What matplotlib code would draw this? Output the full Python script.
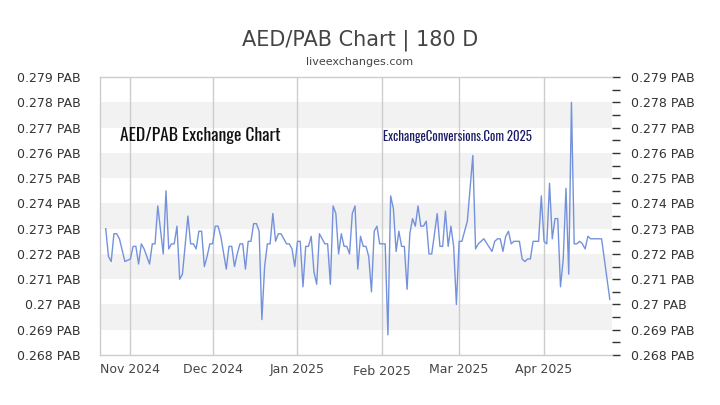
#!/usr/bin/env python3
"""AED/PAB 180 day exchange chart."""

from datetime import datetime, timedelta

import matplotlib

matplotlib.use("Agg")
import matplotlib.pyplot as plt
import matplotlib.dates as mdates
from matplotlib.ticker import FixedLocator, MultipleLocator, FuncFormatter
from matplotlib.transforms import ScaledTranslation

# Data: days counted from 1 Nov 2024, and the AED/PAB rate on that day
START = datetime(2024, 11, 1)
day_offsets = [
    -9, -8, -7, -6, -5, -4, -2, 0, 1, 2, 3, 4, 5, 7, 8, 9, 10, 12, 13, 14,
    15, 16, 17, 18, 19, 21, 22, 23, 24, 25, 26, 27, 28, 29, 30, 31, 32, 33,
    35, 36, 37, 38, 39, 40, 41, 42, 43, 44, 45, 46, 47, 48, 49, 50, 51, 52,
    53, 54, 55, 57, 58, 59, 60, 61, 62, 63, 64, 65, 66, 67, 68, 69, 71, 72,
    73, 74, 75, 76, 77, 78, 79, 80, 81, 82, 83, 84, 85, 86, 87, 88, 89, 90,
    91, 92, 93, 94, 95, 96, 97, 98, 99, 100, 101, 102, 103, 104, 105, 106,
    107, 108, 109, 110, 111, 112, 113, 114, 115, 116, 117, 118, 119, 120,
    121, 122, 123, 125, 126, 127, 128, 129, 132, 133, 134, 135, 136, 137,
    138, 139, 140, 141, 142, 143, 144, 145, 146, 147, 148, 149, 150, 151,
    152, 153, 154, 155, 156, 157, 158, 159, 160, 161, 162, 163, 164, 165,
    166, 167, 168, 169, 170, 171, 172, 175,
]
rates = [
    0.2730, 0.2719, 0.2717, 0.2728, 0.2728, 0.2726, 0.2717, 0.2718, 0.2723, 0.2723,
    0.2716, 0.2724, 0.2722, 0.2716, 0.2724, 0.2724, 0.2739, 0.2720, 0.2745, 0.2722,
    0.2724, 0.2724, 0.2731, 0.2710, 0.2712, 0.2735, 0.2724, 0.2724, 0.2722, 0.2729,
    0.2729, 0.2715, 0.2719, 0.2724, 0.2724, 0.2731, 0.2731, 0.2727,
    0.2714, 0.2723, 0.2723, 0.2715, 0.2720, 0.2724, 0.2724, 0.2714, 0.2725, 0.2725,
    0.2732, 0.2732, 0.2729, 0.2694, 0.2715, 0.2724, 0.2724, 0.2736,
    0.2725, 0.2728, 0.2728, 0.2724, 0.2724, 0.2722, 0.2715, 0.2725, 0.2725, 0.2707,
    0.2723, 0.2723, 0.2727, 0.2713, 0.2708, 0.2728, 0.2724, 0.2724,
    0.2708, 0.2739, 0.2736, 0.2720, 0.2728, 0.2723, 0.2723, 0.2720, 0.2736, 0.2739,
    0.2714, 0.2727, 0.2723, 0.2723, 0.2719, 0.2705, 0.2729, 0.2731,
    0.2724, 0.2724, 0.2724, 0.2688, 0.2743, 0.2738, 0.2721, 0.2729, 0.2723, 0.2723,
    0.2706, 0.2728, 0.2734, 0.2731, 0.2739, 0.2731,
    0.2731, 0.2733, 0.2720, 0.2720, 0.2728, 0.2736, 0.2723, 0.2723, 0.2737, 0.2723,
    0.2731, 0.2723, 0.2700, 0.2725,
    0.2725, 0.2729, 0.2733, 0.2759, 0.2722, 0.2724, 0.2725, 0.2726, 0.2721, 0.2725,
    0.2726, 0.2726, 0.2721, 0.2727,
    0.2729, 0.2724, 0.2725, 0.2725, 0.2725, 0.2718, 0.2717, 0.2718, 0.2718, 0.2725,
    0.2725, 0.2725, 0.2743, 0.2725,
    0.2724, 0.2748, 0.2726, 0.2734, 0.2734, 0.2707, 0.2718, 0.2746, 0.2712, 0.2780,
    0.2724, 0.2724, 0.2725, 0.2724,
    0.2722, 0.2727, 0.2726, 0.2726, 0.2726, 0.2726, 0.2726, 0.2702,
]

month_ticks = ["2024-11-01", "2024-12-01", "2025-01-01", "2025-02-01",
               "2025-03-01", "2025-04-01"]
month_labels = ["Nov 2024", "Dec 2024", "Jan 2025", "Feb 2025",
                "Mar 2025", "Apr 2025"]
y_min, y_max = 0.268, 0.279

dates = [START + timedelta(days=d) for d in day_offsets]
tick_dates = [mdates.date2num(datetime.strptime(t, "%Y-%m-%d")) for t in month_ticks]

fig = plt.figure(figsize=(7.2, 4.05), dpi=100)
ax = fig.add_axes([0.139, 0.1235, 0.711, 0.686])

# Alternating grey bands
for lo in [0.269, 0.271, 0.273, 0.275, 0.277]:
    ax.axhspan(lo, lo + 0.001, color="#f2f2f2", zorder=0, lw=0)

for t in tick_dates:
    ax.axvline(t, color="#cccccc", lw=1, zorder=1)

ax.plot(dates, rates, color="#7492dc", lw=1, zorder=3)

ax.set_xlim(mdates.date2num(START - timedelta(days=11.06)),
            mdates.date2num(START + timedelta(days=175.8)))
ax.set_ylim(y_min, y_max)

# Spines
for side in ["top", "bottom", "left"]:
    ax.spines[side].set_color("#cccccc")
    ax.spines[side].set_linewidth(1)
ax.spines["right"].set_visible(False)

# X axis
ax.xaxis.set_major_locator(FixedLocator(tick_dates))
ax.set_xticklabels(month_labels)
ax.tick_params(axis="x", length=0, pad=6, labelsize=9, labelcolor="#444444")
feb = ax.get_xticklabels()[3]
feb.set_transform(feb.get_transform() + ScaledTranslation(0, -1.2 / 72, fig.dpi_scale_trans))

# Y axis, labels on both sides
fmt = FuncFormatter(lambda v, _: f"{v:.3f}".rstrip("0") + " PAB" if round(v * 1000) % 10 == 0
                    else f"{v:.3f} PAB")
ax.yaxis.set_major_locator(MultipleLocator(0.001))
ax.yaxis.set_minor_locator(MultipleLocator(0.0005))
ax.yaxis.set_major_formatter(fmt)
ax.tick_params(axis="y", which="both", left=False, right=True, labelleft=True,
               labelright=True, length=6, width=1, color="#333333",
               labelsize=9, labelcolor="#333333", pad=8)

# Titles and watermarks
condensed = ["Oswald", "IBM Plex Sans Condensed", "DejaVu Sans"]
fig.text(0.5, 0.9, "AED/PAB Chart | 180 D", ha="center", va="center",
         fontsize=15, color="#444444")
fig.text(0.5, 0.847, "liveexchanges.com", ha="center", va="center",
         fontsize=8, color="#444444")
ax.text(0.038, 0.79, "AED/PAB Exchange Chart", transform=ax.transAxes,
        fontsize=12.7, fontweight="bold", color="#111111", va="center",
        family=condensed)
ax.text(0.552, 0.785, "ExchangeConversions.Com 2025", transform=ax.transAxes,
        fontsize=9.2, fontweight="bold", color="#1a1a66", va="center",
        family=condensed)

fig.savefig("out.png", dpi=100, facecolor="white")
